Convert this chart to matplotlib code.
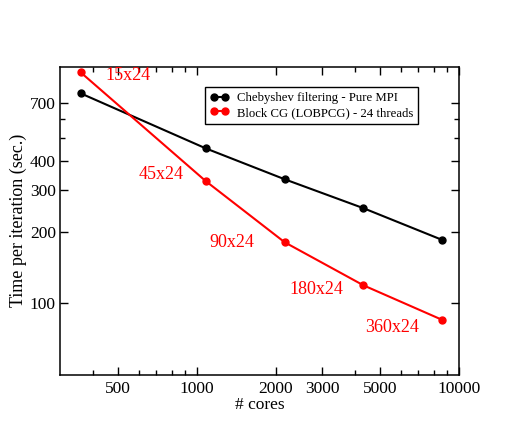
import matplotlib
matplotlib.use("Agg")
import matplotlib.pyplot as plt
from matplotlib.ticker import FixedLocator, NullFormatter

plt.rcParams['font.family'] = ['Liberation Serif', 'DejaVu Serif']

cores = [360, 1080, 2160, 4320, 8640]
cheb_time = [770, 451, 334, 252, 185]
lobpcg_time = [944, 328, 181, 119, 85]
point_labels = ["15x24", "45x24", "90x24", "180x24", "360x24"]
label_offsets = [(34, -2), (-32, 5), (-38, 0), (-34, -3), (-36, -5.5)]

fig = plt.figure(figsize=(5.17, 4.41), dpi=100)
ax = fig.add_axes([60 / 517, (441 - 374.5) / 441, 399 / 517, 308 / 441])

ax.plot(cores, cheb_time, color='black', lw=1.5, marker='o', ms=5,
        label="Chebyshev filtering - Pure MPI")
ax.plot(cores, lobpcg_time, color='red', lw=1.5, marker='o', ms=5,
        label="Block CG (LOBPCG) - 24 threads")

for x, y, txt, off in zip(cores, lobpcg_time, point_labels, label_offsets):
    ax.annotate(txt, (x, y), xytext=off, textcoords='offset points',
                ha='center', va='center', color='red', fontsize=13)

ax.set_xscale('log')
ax.set_yscale('log')
ax.set_xlim(300, 10000)
ax.set_ylim(50, 1000)

ax.xaxis.set_major_locator(FixedLocator([500, 1000, 2000, 3000, 5000, 10000]))
ax.xaxis.set_minor_locator(FixedLocator([400, 600, 700, 800, 900, 4000, 6000, 7000, 8000, 9000]))
ax.set_xticklabels(["500", "1000", "2000", "3000", "5000", "10000"])
ax.xaxis.set_minor_formatter(NullFormatter())
ax.yaxis.set_major_locator(FixedLocator([100, 200, 300, 400, 700]))
ax.yaxis.set_minor_locator(FixedLocator([500, 600]))
ax.set_yticklabels(["100", "200", "300", "400", "700"])
ax.yaxis.set_minor_formatter(NullFormatter())

ax.tick_params(which='both', direction='in', top=True, right=True, labelsize=12.5, width=1)
ax.tick_params(axis='x', which='major', length=6, pad=5)
ax.tick_params(axis='y', which='major', length=6, pad=3)
ax.tick_params(which='minor', length=3.5)
for s in ax.spines.values():
    s.set_linewidth(1.1)

ax.set_xlabel("# cores", fontsize=12.5, labelpad=0)
ax.set_ylabel("Time per iteration (sec.)", fontsize=13, labelpad=2)

leg = ax.legend(loc='upper left', bbox_to_anchor=(0.3627, 0.933), borderaxespad=0,
                fontsize=9.2, numpoints=2, handlelength=1.5, fancybox=False,
                framealpha=1, edgecolor='black', borderpad=0.4, labelspacing=0.2,
                handletextpad=0.6)
leg.get_frame().set_linewidth(1)

fig.savefig("out.png", dpi=100)
